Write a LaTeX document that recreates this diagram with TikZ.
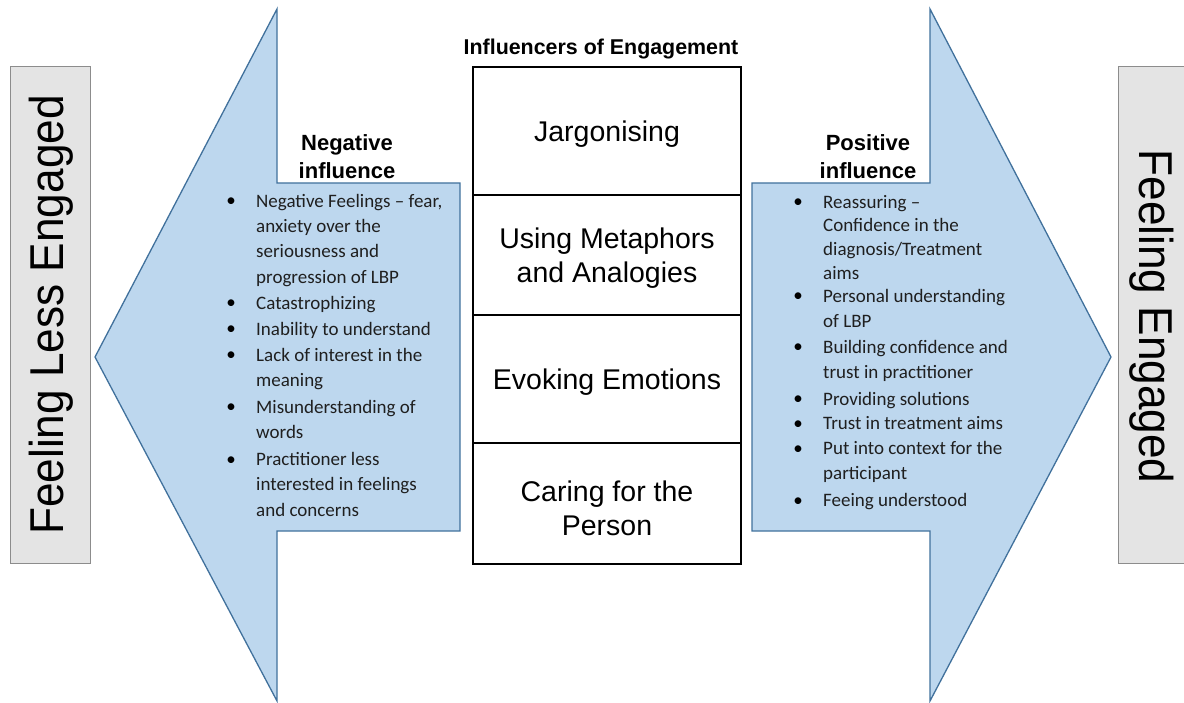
\documentclass[tikz,border=0pt]{standalone}
\usepackage{fontspec}
\setmainfont{Liberation Sans}
\newfontfamily\bodyfont{Carlito}
\definecolor{arrowfill}{HTML}{BDD7EE}
\definecolor{arrowline}{HTML}{41719C}
\definecolor{sidefill}{HTML}{E4E4E4}
\definecolor{sideline}{HTML}{8C8C8C}
\tikzset{
  bigarrow/.style={fill=arrowfill, draw=arrowline, line width=1.3pt, line join=miter},
  sidebox/.style={draw=sideline, fill=sidefill, line width=1pt, inner sep=0pt},
  sidetext/.style={font=\fontsize{47.5}{52}\selectfont, inner sep=0pt, anchor=base},
  cell/.style={draw=black, line width=2pt, minimum width=268pt, inner sep=0pt},
  celltext/.style={align=center, inner sep=0pt, font=\fontsize{28.5}{34}\selectfont},
  heading/.style={font=\bfseries\fontsize{22}{28}\selectfont, align=center, inner sep=0pt},
  entry/.style={anchor=north west, yshift=#1*0.7pt, align=left, inner sep=0pt,
                text=black!88, font=\bodyfont\fontsize{19}{#1}\selectfont},
  bulletmark/.style={anchor=base, inner sep=0pt, font=\bodyfont\fontsize{19}{20}\selectfont}
}
\begin{document}
\begin{tikzpicture}[x=1pt, y=-1pt]
\useasboundingbox (0,0) rectangle (1184,703);
\clip (0,0) rectangle (1184,703);

% side boxes with their rotated captions
\node[sidebox, minimum width=80pt, minimum height=496pt] (lessbox) at (50,315) {};
\node[sidetext, rotate=90] (lesstext) at (63,315) {\scalebox{0.93}[1]{Feeling Less Engaged}};
\node[sidebox, minimum width=72pt, minimum height=496pt] (morebox) at (1154,315) {};
\node[sidetext, rotate=-90] (moretext) at (1139,316.5) {\scalebox{0.93}[1]{Feeling Engaged}};

% the two big arrows
\draw[bigarrow] (95,357) -- (277,9) -- (277,183) -- (460,183) -- (460,531)
  -- (277,531) -- (277,701) -- cycle;
\draw[bigarrow] (1111,357) -- (930,9) -- (930,183) -- (752,183) -- (752,531)
  -- (930,531) -- (930,701) -- cycle;

% central column
\node[font=\bfseries\fontsize{21.4}{24}\selectfont, inner sep=0pt] (title) at (601,49) {Influencers of Engagement};
\node[cell, minimum height=128pt] (jarg) at (607,131) {};
\node[cell, minimum height=120pt] (meta) at (607,255) {};
\node[cell, minimum height=128pt] (emot) at (607,379) {};
\node[cell, minimum height=121pt] (care) at (607,503.5) {};
\node[celltext] (jargtext) at (607,134) {Jargonising};
\node[celltext] (metatext) at (607,258) {Using Metaphors\\and Analogies};
\node[celltext] (emottext) at (607,382.5) {Evoking Emotions};
\node[celltext] (caretext) at (607,508) {Caring for the\\Person};

% headings
\node[heading] (neghead) at (347,157) {Negative\\influence};
\node[heading] (poshead) at (868,157) {Positive\\influence};

% negative list
\foreach \y in {207,309,335,361,413,465} \node[bulletmark] at (231,\y) {\textbullet};
\node[entry=25.3] (n1) at (256,207)
  {\strut Negative Feelings – fear,\\anxiety over the\\seriousness and\\progression of LBP};
\node[entry=25.5] (n2) at (256,309) {\strut Catastrophizing};
\node[entry=25.5] (n3) at (256,335) {\strut Inability to understand};
\node[entry=25.5] (n4) at (256,361) {\strut Lack of interest in the\\meaning};
\node[entry=25.3] (n5) at (256,413) {\strut Misunderstanding of\\words};
\node[entry=25.5] (n6) at (256,465) {\strut Practitioner less\\interested in feelings\\and concerns};

% positive list
\foreach \y in {208,302,353,405,429,454,506} \node[bulletmark] at (798,\y) {\textbullet};
\node[entry=23.7] (p1) at (823,208)
  {\strut Reassuring –\\Confidence in the\\diagnosis/Treatment\\aims};
\node[entry=25.5] (p2) at (823,302) {\strut Personal understanding\\of LBP};
\node[entry=25] (p3) at (823,353) {\strut Building confidence and\\trust in practitioner};
\node[entry=25] (p4) at (823,405) {\strut Providing solutions};
\node[entry=25] (p5) at (823,429) {\strut Trust in treatment aims};
\node[entry=25] (p6) at (823,454) {\strut Put into context for the\\participant};
\node[entry=25] (p7) at (823,506) {\strut Feeing understood};
\end{tikzpicture}
\end{document}
